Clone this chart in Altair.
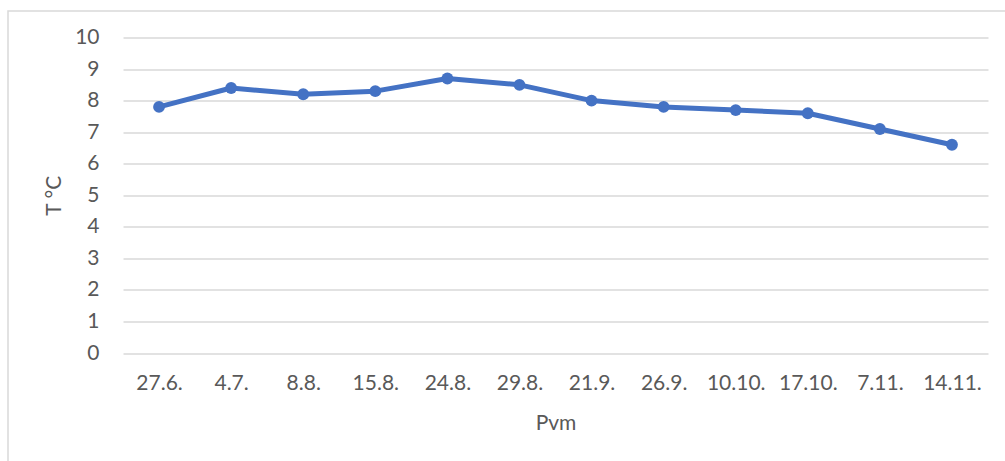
import altair as alt
import pandas as pd

# Measurement dates (category axis) and temperatures in °C
dates = ["27.6.", "4.7.", "8.8.", "15.8.", "24.8.", "29.8.",
         "21.9.", "26.9.", "10.10.", "17.10.", "7.11.", "14.11."]
temps = [7.8, 8.4, 8.2, 8.3, 8.7, 8.5, 8.0, 7.8, 7.7, 7.6, 7.1, 6.6]
y_ticks = list(range(0, 11))

df = pd.DataFrame({"Pvm": dates, "T": temps})

FONT = "Lato"
TEXT = "#595959"
GRID = "#d9d9d9"
BLUE = "#4472C4"

W, H = 865, 315.5

x_enc = alt.X(
    "Pvm:O",
    sort=dates,
    scale=alt.Scale(type="point", padding=0.5),
    axis=alt.Axis(
        title="Pvm",
        domain=False,
        ticks=False,
        grid=False,
        labelAngle=0,
        labelFont=FONT,
        labelFontSize=21,
        labelColor=TEXT,
        labelBaseline="middle",
        labelPadding=30,
        titleFont=FONT,
        titleFontSize=21,
        titleFontWeight="normal",
        titleColor=TEXT,
        titleBaseline="middle",
        titleY=70,
    ),
)
y_enc = alt.Y(
    "T:Q",
    scale=alt.Scale(domain=[0, 10], nice=False),
    axis=alt.Axis(
        title="T °C",
        values=y_ticks,
        domain=False,
        ticks=False,
        grid=True,
        gridColor=GRID,
        gridWidth=1.5,
        labelFont=FONT,
        labelFontSize=21,
        labelColor=TEXT,
        labelPadding=24,
        titleFont=FONT,
        titleFontSize=21,
        titleFontWeight="normal",
        titleColor=TEXT,
        titleBaseline="middle",
        titleX=-69,
        titleY=H / 2,
        titleAngle=-90,
    ),
)

# light frame around the whole chart
frame = alt.Chart(pd.DataFrame({"k": [0]})).mark_rect(
    fill=None, stroke=GRID, strokeWidth=1.5
).encode(
    x=alt.value(-115), x2=alt.value(W + 40),
    y=alt.value(-26.5), y2=alt.value(H + 140),
)

line = alt.Chart(df).mark_line(
    color=BLUE, strokeWidth=5, strokeCap="round", strokeJoin="round"
).encode(x=x_enc, y=y_enc)

points = alt.Chart(df).mark_point(
    filled=True, shape="circle", size=140, color=BLUE, opacity=1
).encode(x=x_enc, y=y_enc)

chart = (
    alt.layer(frame, line, points)
    .properties(
        width=W,
        height=H,
        autosize=alt.AutoSizeParams(type="none"),
        padding={"left": 123, "top": 37.5, "right": 17, "bottom": 108},
        background="white",
    )
    .configure_view(stroke=None)
)

chart.save("out.html", embed_options={"renderer": "svg", "actions": False})
